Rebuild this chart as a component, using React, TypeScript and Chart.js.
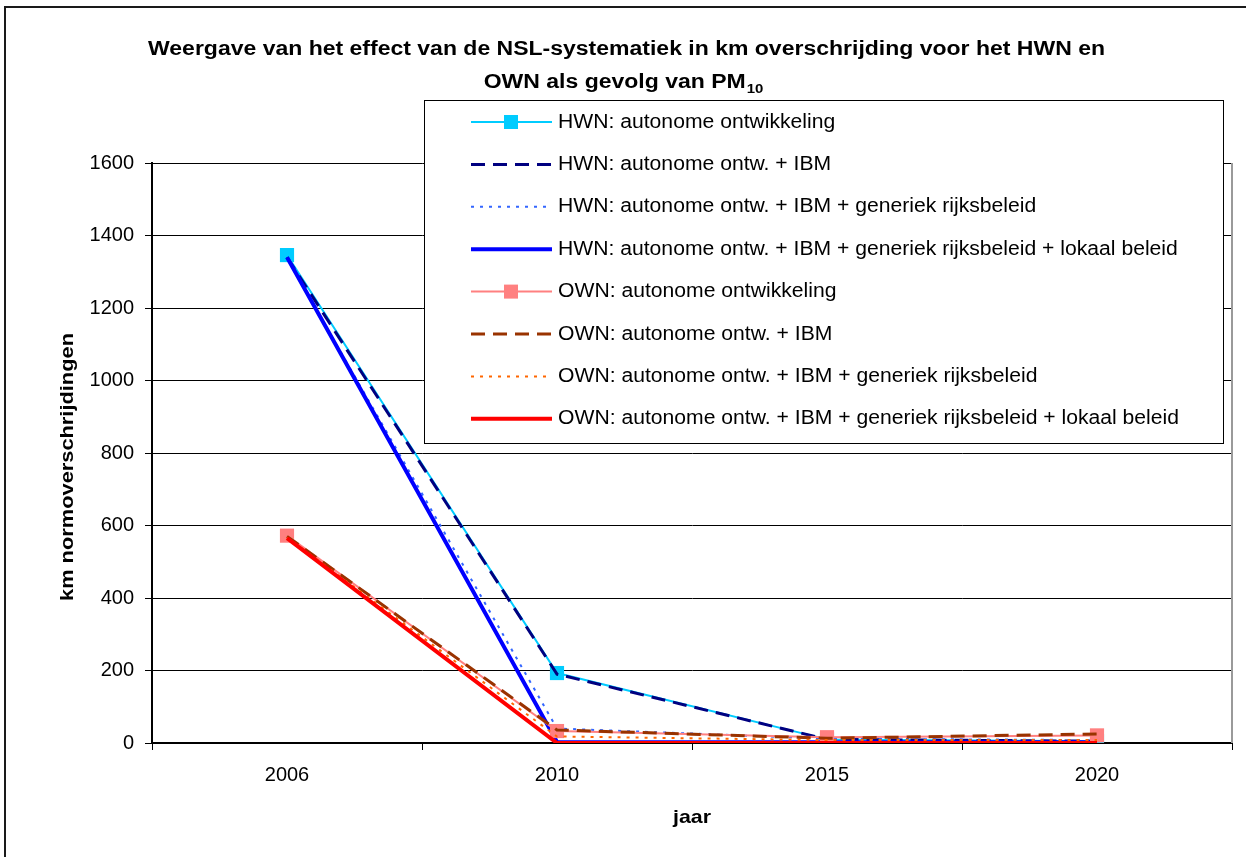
import React, { useEffect, useRef } from "react";
import { Chart, registerables } from "chart.js";

Chart.register(...registerables);

const years = ["2006", "2010", "2015", "2020"];

const hwnAutonoom = [1346, 193, 10, 5];
const hwnIbm = [1340, 190, 10, 5];
const hwnGeneriek = [1336, 40, 12, 8];
const hwnLokaal = [1340, 3, 2, 2];
const ownAutonoom = [572, 33, 16, 21];
const ownIbm = [570, 36, 13, 25];
const ownGeneriek = [567, 18, 8, 8];
const ownLokaal = [565, 0, 0, 0];

const seriesLabels = [
  "HWN: autonome ontwikkeling",
  "HWN: autonome ontw. + IBM",
  "HWN: autonome ontw. + IBM + generiek rijksbeleid",
  "HWN: autonome ontw. + IBM + generiek rijksbeleid + lokaal beleid",
  "OWN: autonome ontwikkeling",
  "OWN: autonome ontw. + IBM",
  "OWN: autonome ontw. + IBM + generiek rijksbeleid",
  "OWN: autonome ontw. + IBM + generiek rijksbeleid + lokaal beleid",
];

const titleLine1 =
  "Weergave van het effect van de NSL-systematiek in km overschrijding voor het HWN en";
const titleLine2 = "OWN als gevolg van PM";
const titleSub = "10";
const yAxisTitle = "km normoverschrijdingen";
const xAxisTitle = "jaar";

const FONT = "'Liberation Sans', Arial, Helvetica, sans-serif";

function drawScaledText(
  ctx: CanvasRenderingContext2D,
  text: string,
  x: number,
  y: number,
  sx: number
) {
  ctx.save();
  ctx.translate(x, y);
  ctx.scale(sx, 1);
  ctx.fillText(text, 0, 0);
  ctx.restore();
}

const decorPlugin = {
  id: "decor",
  beforeDraw(chart: any) {
    const ctx = chart.ctx as CanvasRenderingContext2D;
    ctx.save();
    ctx.fillStyle = "#ffffff";
    ctx.fillRect(0, 0, chart.width, chart.height);
    ctx.restore();
  },
  beforeDatasetsDraw(chart: any) {
    const ctx = chart.ctx as CanvasRenderingContext2D;
    const a = chart.chartArea;
    ctx.save();
    ctx.strokeStyle = "#9a9a9a";
    ctx.lineWidth = 2;
    ctx.beginPath();
    ctx.moveTo(a.right, a.top);
    ctx.lineTo(a.right, a.bottom);
    ctx.stroke();
    ctx.restore();
  },
  afterDraw(chart: any) {
    const ctx = chart.ctx as CanvasRenderingContext2D;
    const a = chart.chartArea;
    ctx.save();

    // outer frame
    ctx.strokeStyle = "#1a1a1a";
    ctx.lineWidth = 2;
    ctx.strokeRect(5, 7, 3000, 3000);

    // title
    ctx.fillStyle = "#000000";
    ctx.font = `bold 20px ${FONT}`;
    ctx.textBaseline = "alphabetic";
    ctx.textAlign = "left";
    const w1 = ctx.measureText(titleLine1).width;
    const sx = 957 / w1;
    drawScaledText(ctx, titleLine1, 626.5 - (w1 * sx) / 2, 55, sx);
    const w2 = ctx.measureText(titleLine2).width * sx;
    ctx.font = `bold 13px ${FONT}`;
    const ws = ctx.measureText(titleSub).width * sx;
    const start2 = 623 - (w2 + ws) / 2;
    ctx.font = `bold 20px ${FONT}`;
    drawScaledText(ctx, titleLine2, start2, 88, sx);
    ctx.font = `bold 13px ${FONT}`;
    drawScaledText(ctx, titleSub, start2 + w2 + 1, 93, sx);

    // axis titles
    ctx.font = `bold 19px ${FONT}`;
    ctx.textBaseline = "middle";
    ctx.textAlign = "center";
    const wy = ctx.measureText(yAxisTitle).width;
    ctx.save();
    ctx.translate(68, 467);
    ctx.rotate(-Math.PI / 2);
    ctx.scale(268 / wy, 1);
    ctx.fillText(yAxisTitle, 0, 0);
    ctx.restore();
    const wx = ctx.measureText(xAxisTitle).width;
    ctx.save();
    ctx.translate((a.left + a.right) / 2, 818);
    ctx.scale(38 / wx, 1);
    ctx.fillText(xAxisTitle, 0, 0);
    ctx.restore();

    // legend box
    const lx = 424,
      ly = 100,
      lw = 1223 - 424,
      lh = 443 - 100;
    ctx.fillStyle = "#ffffff";
    ctx.fillRect(lx, ly, lw, lh);
    ctx.strokeStyle = "#000000";
    ctx.lineWidth = 1;
    ctx.strokeRect(lx + 0.5, ly + 0.5, lw, lh);

    ctx.font = `20px ${FONT}`;
    ctx.textAlign = "left";
    ctx.textBaseline = "middle";
    let longest = 0;
    chart.data.datasets.forEach((ds: any) => {
      longest = Math.max(longest, ctx.measureText(ds.label).width);
    });
    const lsx = 621 / longest;
    chart.data.datasets.forEach((ds: any, i: number) => {
      const y = 122 + i * 42.4;
      ctx.save();
      ctx.strokeStyle = ds.borderColor;
      ctx.lineWidth = ds.borderWidth;
      ctx.setLineDash(ds.borderDash || []);
      ctx.beginPath();
      ctx.moveTo(471, y);
      ctx.lineTo(552, y);
      ctx.stroke();
      ctx.setLineDash([]);
      if (ds.pointRadius > 0) {
        ctx.fillStyle = ds.pointBackgroundColor;
        ctx.fillRect(511 - 7, y - 7, 14, 14);
      }
      ctx.restore();
      ctx.fillStyle = "#000000";
      drawScaledText(ctx, ds.label, 558, y, lsx);
    });

    ctx.restore();
  },
};

type Style = {
  color: string;
  width: number;
  dash: number[];
  marker: boolean;
};

const styles: Style[] = [
  { color: "#00CCFF", width: 2, dash: [], marker: true },
  { color: "#000080", width: 3, dash: [14, 8], marker: false },
  { color: "#3366FF", width: 2, dash: [3, 6], marker: false },
  { color: "#0000FF", width: 4, dash: [], marker: false },
  { color: "#FF8080", width: 2, dash: [], marker: true },
  { color: "#993300", width: 3, dash: [14, 8], marker: false },
  { color: "#FF6600", width: 2, dash: [3, 6], marker: false },
  { color: "#FF0000", width: 4, dash: [], marker: false },
];

const seriesValues = [
  hwnAutonoom,
  hwnIbm,
  hwnGeneriek,
  hwnLokaal,
  ownAutonoom,
  ownIbm,
  ownGeneriek,
  ownLokaal,
];

export default function App() {
  const canvasRef = useRef<HTMLCanvasElement | null>(null);

  useEffect(() => {
    document.body.style.margin = "0";
    const canvas = canvasRef.current;
    if (!canvas) return;
    const datasets = seriesValues.map((vals, i) => {
      const s = styles[i];
      return {
        label: seriesLabels[i],
        data: vals,
        borderColor: s.color,
        backgroundColor: s.color,
        borderWidth: s.width,
        borderDash: s.dash,
        pointStyle: "rect",
        pointRadius: s.marker ? 10 : 0,
        pointHoverRadius: s.marker ? 10 : 0,
        pointBackgroundColor: s.color,
        pointBorderColor: s.color,
        pointBorderWidth: 0,
        tension: 0,
        fill: false,
        order: 8 - i,
      };
    });

    const chart = new Chart(canvas, {
      type: "line",
      data: { labels: years, datasets: datasets as any },
      plugins: [decorPlugin as any],
      options: {
        responsive: false,
        animation: false,
        devicePixelRatio: 1,
        layout: { padding: { left: 0, top: 163, right: 14, bottom: 0 } },
        plugins: {
          legend: { display: false },
          title: { display: false },
          tooltip: { enabled: false },
        },
        scales: {
          x: {
            type: "category",
            offset: true,
            grid: {
              offset: true,
              drawOnChartArea: false,
              drawTicks: true,
              tickLength: 7,
              color: "#000000",
            },
            border: { display: true, color: "#000000", width: 2 },
            ticks: {
              color: "#000000",
              font: { family: FONT, size: 20 },
              padding: 13,
              maxRotation: 0,
            },
            afterFit(scale: any) {
              scale.height = 114;
            },
          },
          y: {
            min: 0,
            max: 1600,
            ticks: {
              stepSize: 200,
              color: "#000000",
              font: { family: FONT, size: 20 },
              padding: 11,
              callback: (v: any) => String(v),
            },
            grid: {
              color: "#000000",
              lineWidth: 1,
              drawTicks: true,
              tickLength: 7,
            },
            border: { display: true, color: "#000000", width: 2 },
            afterFit(scale: any) {
              scale.width = 152;
            },
          },
        },
      },
    });
    return () => chart.destroy();
  }, []);

  return (
    <div style={{ width: 1246, height: 857, position: "relative" }}>
      <canvas ref={canvasRef} width={1246} height={857} />
    </div>
  );
}
